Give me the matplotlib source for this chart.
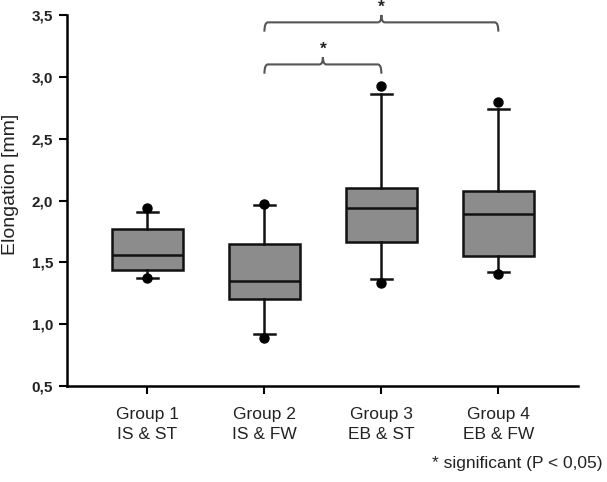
import matplotlib
matplotlib.use('Agg')
import matplotlib.pyplot as plt
from matplotlib.path import Path
from matplotlib.patches import PathPatch

plt.rcParams['font.family'] = ['Liberation Sans', 'DejaVu Sans']

# Werte
groups = ['Group 1\nIS & ST', 'Group 2\nIS & FW', 'Group 3\nEB & ST', 'Group 4\nEB & FW']
q1 = [1.435, 1.201, 1.667, 1.548]
med = [1.557, 1.346, 1.941, 1.888]
q3 = [1.767, 1.646, 2.098, 2.079]
whislo = [1.376, 0.918, 1.363, 1.422]
whishi = [1.909, 1.961, 2.858, 2.737]
low_pts = [1.37, 0.89, 1.335, 1.41]
high_pts = [1.936, 1.97, 2.928, 2.80]

# Signifikanz: (Gruppe a, Gruppe b, Höhe)
sig_pairs = [(2, 3, 3.10), (2, 4, 3.44)]

stats = []
for i in range(len(groups)):
    stats.append({'med': med[i], 'q1': q1[i], 'q3': q3[i],
                  'whislo': whislo[i], 'whishi': whishi[i],
                  'fliers': [low_pts[i], high_pts[i]]})

fig = plt.figure(figsize=(6.07, 4.82), dpi=100)
ax = fig.add_axes([0.110, 0.199, 0.842, 0.770])

ax.bxp(stats, positions=[1, 2, 3, 4], widths=0.61, capwidths=0.18,
       patch_artist=True,
       boxprops=dict(facecolor='#8c8c8c', edgecolor='#111111', linewidth=1.8),
       medianprops=dict(color='#111111', linewidth=1.8),
       whiskerprops=dict(color='#111111', linewidth=1.8),
       capprops=dict(color='#111111', linewidth=1.8),
       flierprops=dict(marker='o', markerfacecolor='black', markeredgecolor='black',
                       markersize=6.5, linestyle='none'))

ax.set_xlim(0.31, 4.68)
ax.set_ylim(0.5, 3.5)
ax.set_yticks([0.5, 1.0, 1.5, 2.0, 2.5, 3.0, 3.5])
ax.set_yticklabels(['0,5', '1,0', '1,5', '2,0', '2,5', '3,0', '3,5'],
                   fontsize=11, fontweight='bold', color='#222222')
ax.set_xticks([1, 2, 3, 4])
ax.set_xticklabels(groups, fontsize=12.5, color='#222222', linespacing=1.45)
ax.tick_params(axis='x', length=6, width=1.5, pad=9)
ax.tick_params(axis='y', length=6, width=1.5, pad=4)
for lbl in ax.get_xticklabels():
    lbl.set_multialignment('center')

ax.spines['top'].set_visible(False)
ax.spines['right'].set_visible(False)
ax.spines['left'].set_linewidth(1.8)
ax.spines['bottom'].set_linewidth(1.8)
fig.text(0.018, 0.618, 'Elongation [mm]', rotation=90, ha='center', va='center',
         fontsize=14, color='#222222')

# geschweifte Klammern
for a, b, h in sig_pairs:
    drop = 0.075
    r = 0.03
    mid = (a + b) / 2
    verts = [(a, h - drop), (a, h), (a + r, h),
             (mid - r, h), (mid, h), (mid, h + 0.06),
             (mid, h), (mid + r, h),
             (b - r, h), (b, h), (b, h - drop)]
    codes = [Path.MOVETO, Path.CURVE3, Path.CURVE3,
             Path.LINETO, Path.CURVE3, Path.CURVE3,
             Path.CURVE3, Path.CURVE3,
             Path.LINETO, Path.CURVE3, Path.CURVE3]
    ax.add_patch(PathPatch(Path(verts, codes), facecolor='none', edgecolor='#555555',
                           linewidth=1.5, clip_on=False))
    ax.text(mid, h + 0.06, '*', ha='center', va='bottom', fontsize=12.5,
            fontweight='bold', color='#222222', clip_on=False)

fig.text(0.992, 0.039, '* significant (P < 0,05)', ha='right', va='center',
         fontsize=12.5, color='#222222')

fig.savefig('out.png', dpi=100)
